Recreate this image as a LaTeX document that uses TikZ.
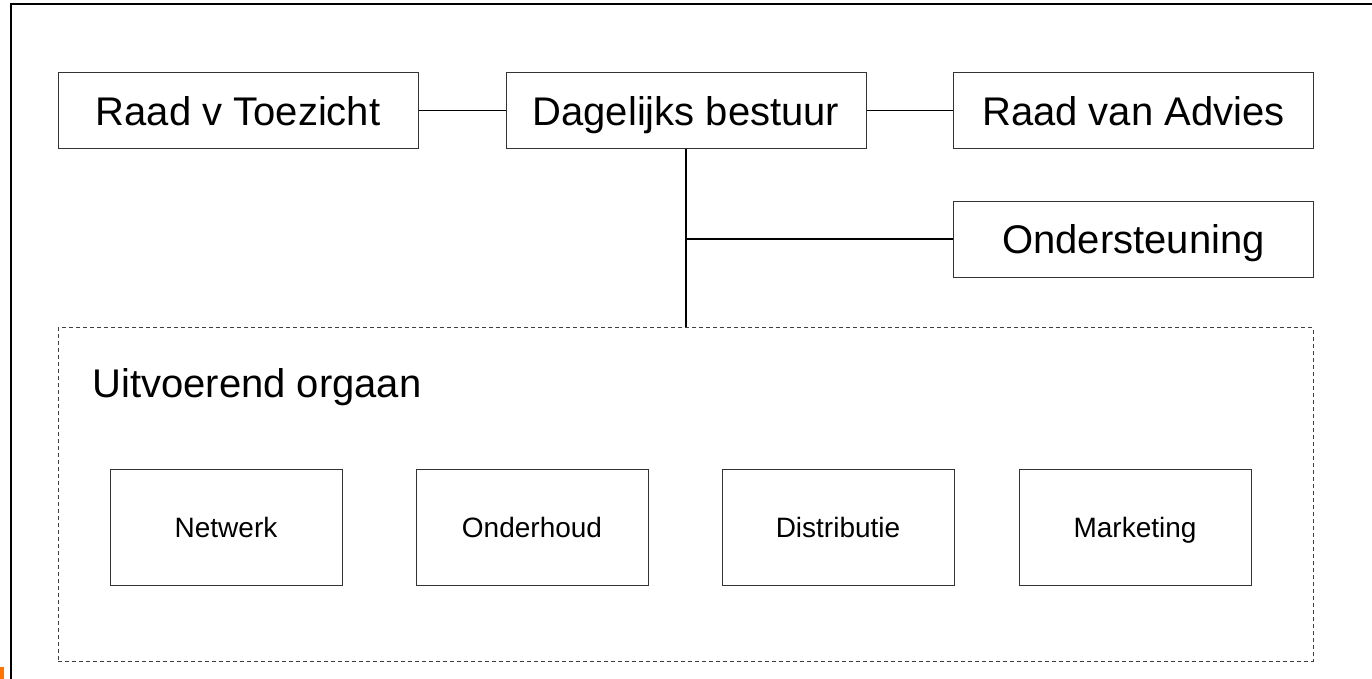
\documentclass[tikz,border=0pt]{standalone}
\usepackage{fontspec}
\setmainfont{Liberation Sans}
\usetikzlibrary{positioning}

\begin{document}
\begin{tikzpicture}[x = .5pt, y = -.5pt, lijn/.style = {line width = .5pt}, tak/.style = {line width = 1pt}]
    \useasboundingbox (0,0) rectangle (1372,679);
    \tikzstyle{groot}=[draw=black!80,line width=.5pt,minimum width=180pt,minimum height=38pt,inner sep=0pt,font=\fontsize{20}{24}\selectfont,text height=14.4pt,text depth=0pt]
    \tikzstyle{klein}=[draw=black!80,line width=.5pt,minimum width=116pt,minimum height=58pt,inner sep=0pt,font=\fontsize{14}{17}\selectfont,text height=10.1pt,text depth=0pt]
    % kader
    \draw [line width = .7pt] (11,679) -- (11,4) -- (1372,4);
    \fill [orange!90!red] (0,667) rectangle (4,679);

    \node[groot] (toezicht) at (238,111) {Raad v Toezicht};
    \node[groot] (bestuur) at (686,111) {Dagelijks bestuur};
    \node[groot] (advies) at (1133.5,111) {Raad van Advies};
    \node[groot] (steun) at (1133.5,239.5) {Ondersteuning};

    \node[draw=black!75, dashed, dash pattern = on 2pt off 1.5pt, line width = .5pt, minimum width = 627.5pt, minimum height = 166.5pt, inner sep = 0pt] (orgaan) at (685.5,494.5) {};
    \node[anchor = base west, font = \fontsize{20}{24}\selectfont, inner sep = 0pt] (titel) at (92,398) {Uitvoerend orgaan};

    \node[klein] (netwerk) at (226,527) {Netwerk};
    \node[klein] (onderhoud) at (532,527) {Onderhoud};
    \node[klein] (distributie) at (838,527) {Distributie};
    \node[klein] (marketing) at (1135,527) {Marketing};

    \draw [lijn] (toezicht) to (bestuur);
    \draw [lijn] (bestuur) to (advies);
    \coordinate (splits) at (steun.west -| bestuur.south);
    \draw [tak] (bestuur.south) to (bestuur.south |- orgaan.north);
    \draw [tak] (splits) to (steun.west);
\end{tikzpicture}
\end{document}
